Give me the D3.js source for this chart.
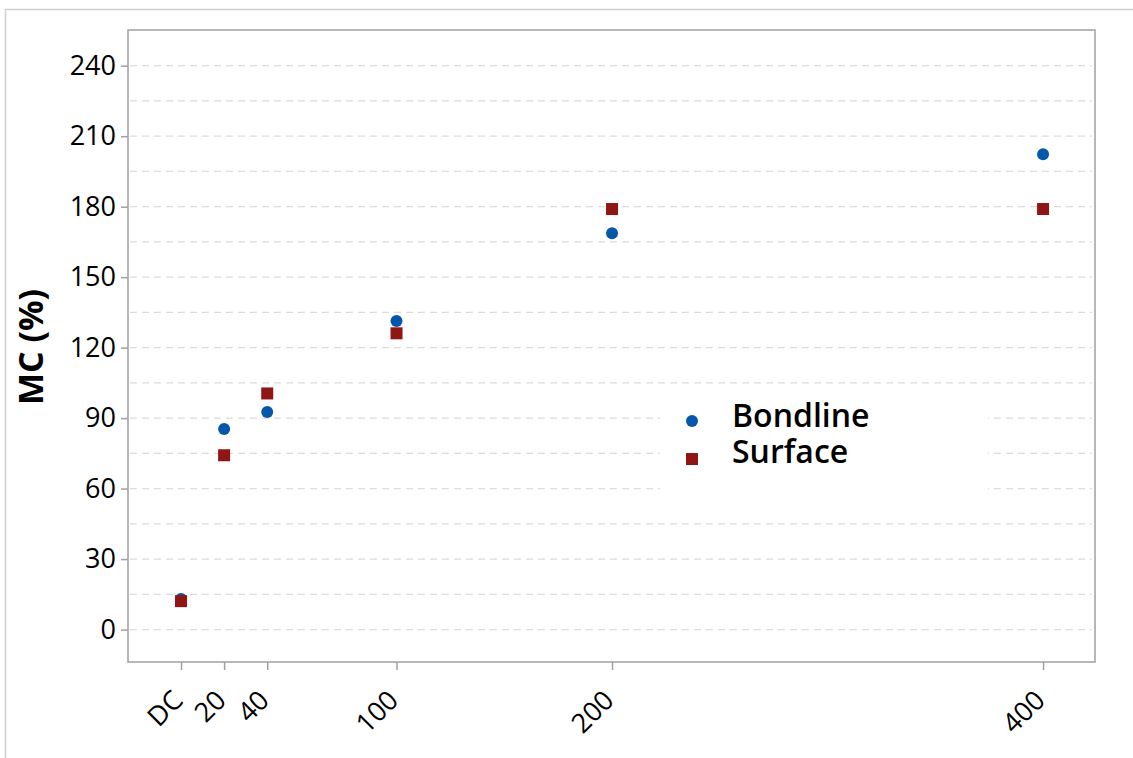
<!DOCTYPE html>
<html>
<head>
<meta charset="utf-8">
<script src="https://cdn.jsdelivr.net/npm/d3@7/dist/d3.min.js"></script>
<style>
	body {
		margin: 0;
		background: #fff;
	}

	svg {
		display: block;
		font-family: "Open Sans", "Noto Sans", sans-serif;
	}

	.grid line {
		stroke: #dcdcdc;
		stroke-width: 1.3;
		stroke-dasharray: 7 5;
	}

	.axis {
		font-family: "Open Sans", "Noto Sans", sans-serif;
	}

	.axis path {
		display: none;
	}

	.axis line {
		stroke: #a0a0a0;
		stroke-width: 1.5;
	}

	.axis text {
		font-size: 27px;
		font-weight: 500;
		fill: #000;
	}

	text.label {
		font-size: 34px;
		font-weight: 700;
	}

	text.legend {
		font-size: 32px;
		font-weight: 600;
	}
</style>
</head>
<body>
<div id="chart"></div>
<script>
// exposure levels on x, DC = control (plotted at 0)
const doses = [0, 20, 40, 100, 200, 400];
const doseLabels = ["DC", "20", "40", "100", "200", "400"];
const yTicks = [0, 30, 60, 90, 120, 150, 180, 210, 240];
const gridTicks = d3.range(0, 241, 15);

// moisture content (%)
const bondline = [13, 85.4, 92.6, 131.3, 168.7, 202.3];
const surface = [12.1, 74.2, 100.5, 126.1, 179, 179];

const seriesNames = ["Bondline", "Surface"];
const blue = "#0557aa";
const red = "#901515";

const W = 1133;
const H = 758;
const plot = { left: 128, top: 30, right: 1095, bottom: 662 };

const svg = d3.select("#chart").append("svg")
	.attr("width", W)
	.attr("height", H);

// outer border (only top and left visible)
svg.append("rect")
	.attr("x", 5.5)
	.attr("y", 9.5)
	.attr("width", W + 20)
	.attr("height", H + 20)
	.attr("fill", "none")
	.attr("stroke", "#d0d0d0")
	.attr("stroke-width", 1.5);

const xScale = d3.scaleLinear()
	.domain([-24.6, 424.1])
	.range([plot.left, plot.right]);

const yScale = d3.scaleLinear()
	.domain([-13.8, 255.2])
	.range([plot.bottom, plot.top]);

// dashed horizontal grid
svg.append("g")
	.attr("class", "grid")
	.selectAll("line")
	.data(gridTicks)
	.enter()
	.append("line")
	.attr("x1", plot.left + 2)
	.attr("x2", plot.right - 3)
	.attr("y1", d => yScale(d))
	.attr("y2", d => yScale(d));

// legend background hides grid behind it
svg.append("rect")
	.attr("x", 660)
	.attr("y", 396)
	.attr("width", 328)
	.attr("height", 104)
	.attr("fill", "#fff");

const yAxis = svg.append("g")
	.attr("class", "axis y-axis")
	.attr("transform", `translate(${plot.left}, 0)`)
	.call(d3.axisLeft(yScale).tickValues(yTicks).tickSize(7).tickPadding(5));

const xAxis = svg.append("g")
	.attr("class", "axis x-axis")
	.attr("transform", `translate(0, ${plot.bottom})`)
	.call(d3.axisBottom(xScale)
		.tickValues(doses)
		.tickSize(8)
		.tickFormat((d, i) => doseLabels[i]));

svg.selectAll(".axis").attr("font-family", null).attr("font-size", null);

xAxis.selectAll("text")
	.attr("text-anchor", "end")
	.attr("x", 0)
	.attr("y", 0)
	.attr("dy", 0)
	.attr("transform", "translate(3, 40) rotate(-45)");

// plot frame
svg.append("rect")
	.attr("x", plot.left)
	.attr("y", plot.top)
	.attr("width", plot.right - plot.left)
	.attr("height", plot.bottom - plot.top)
	.attr("fill", "none")
	.attr("stroke", "#a0a0a0")
	.attr("stroke-width", 1.5);

// points
svg.append("g")
	.selectAll("circle")
	.data(bondline)
	.enter()
	.append("circle")
	.attr("cx", (d, i) => xScale(doses[i]))
	.attr("cy", d => yScale(d))
	.attr("r", 6)
	.attr("fill", blue);

const sq = 12;
svg.append("g")
	.selectAll("rect")
	.data(surface)
	.enter()
	.append("rect")
	.attr("x", (d, i) => xScale(doses[i]) - sq / 2)
	.attr("y", d => yScale(d) - sq / 2)
	.attr("width", sq)
	.attr("height", sq)
	.attr("fill", red);

// y label
svg.append("text")
	.attr("class", "label")
	.attr("transform", "translate(43, 347) rotate(-90)")
	.attr("text-anchor", "middle")
	.text("MC (%)");

// legend
const legend = svg.append("g").attr("transform", "translate(692, 0)");

legend.append("circle")
	.attr("cx", 0)
	.attr("cy", 421)
	.attr("r", 6)
	.attr("fill", blue);

legend.append("rect")
	.attr("x", -6)
	.attr("y", 453)
	.attr("width", 12)
	.attr("height", 12)
	.attr("fill", red);

legend.selectAll("text.legend")
	.data(seriesNames)
	.enter()
	.append("text")
	.attr("class", "legend")
	.attr("x", 40)
	.attr("y", (d, i) => 427 + i * 36)
	.text(d => d);
</script>
</body>
</html>
